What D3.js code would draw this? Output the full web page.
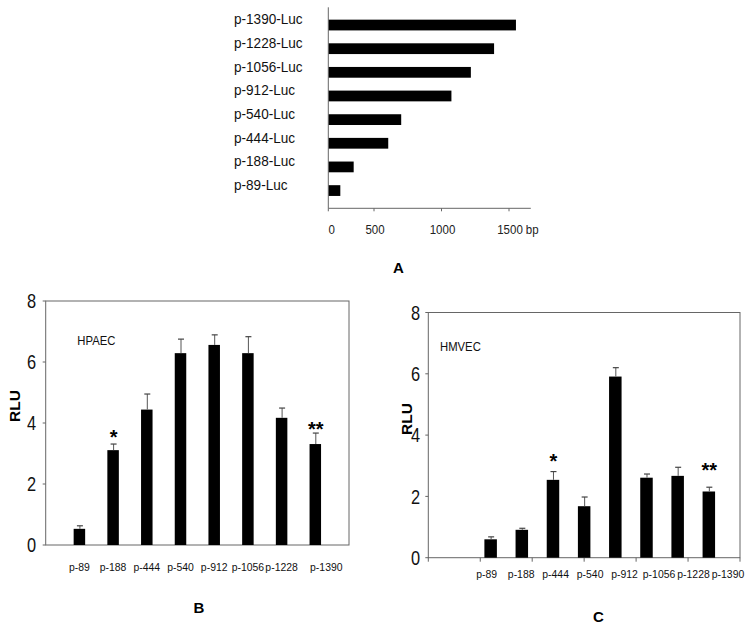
<!DOCTYPE html>
<html><head><meta charset="utf-8">
<script src="https://cdn.jsdelivr.net/npm/d3@7"></script>
<style>
html,body{margin:0;padding:0;background:#fff;}
text{font-family:"Liberation Sans",Arial,sans-serif;}
</style></head>
<body>
<svg id="c" width="753" height="630"></svg>
<script>
// ---------- data ----------
const constructs = ['p-1390-Luc','p-1228-Luc','p-1056-Luc','p-912-Luc','p-540-Luc','p-444-Luc','p-188-Luc','p-89-Luc'];
const lengthsBp = [1390,1228,1056,912,540,444,188,89];
const bpTicks = [0,500,1000,1500];
const bpTickLabels = ['0','500','1000','1500'];

const promoters = ['p-89','p-188','p-444','p-540','p-912','p-1056','p-1228','p-1390'];
const hpaecMean = [0.53,3.11,4.44,6.29,6.56,6.29,4.17,3.31];
const hpaecErr  = [0.10,0.20,0.51,0.46,0.33,0.54,0.32,0.36];
const hmvecMean = [0.60,0.91,2.54,1.68,5.91,2.61,2.67,2.16];
const hmvecErr  = [0.08,0.05,0.27,0.30,0.29,0.12,0.28,0.14];
const rluTicks = [0,2,4,6,8];
const starsB = [{cat:'p-188',text:'*',level:3.30},{cat:'p-1390',text:'**',level:3.58}];
const starsC = [{cat:'p-444',text:'*',level:2.94},{cat:'p-1390',text:'**',level:2.64}];

const svg = d3.select('#c');
const axisCol = '#666';

// ---------- Panel A ----------
(function(){
  const x0 = 328.3, x1 = 530.8, yTop = 7.3, yBot = 208.3;
  const x = d3.scaleLinear().domain([0,1500]).range([x0,x1]);
  // tick marks in the original are drawn offset from the bar scale
  const xt = d3.scaleLinear().domain([0,1500]).range([x0-21.8, x1-21.8]);
  const y = d3.scalePoint().domain(constructs).range([yTop,yBot]).padding(0.75);
  const bh = y.step()*0.455;
  const g = svg.append('g');
  g.selectAll('rect.bar').data(constructs).join('rect')
    .attr('x',x(0)).attr('y',d=>y(d)-bh/2)
    .attr('width',(d,i)=>x(lengthsBp[i])-x(0)).attr('height',bh).attr('fill','#000');
  g.selectAll('text.lab').data(constructs).join('text')
    .attr('transform',d=>`translate(234,${y(d)-5.5}) scale(0.97,1)`).attr('dy','0.35em')
    .attr('font-size',14).attr('fill','#111').text(d=>d);
  g.append('line').attr('x1',x0).attr('x2',x0).attr('y1',yTop).attr('y2',yBot).attr('stroke',axisCol);
  g.append('line').attr('x1',x0).attr('x2',x1).attr('y1',yBot).attr('y2',yBot).attr('stroke',axisCol);
  const tx = v => Math.max(x0, xt(v));
  g.selectAll('line.tk').data(bpTicks).join('line')
    .attr('x1',tx).attr('x2',tx).attr('y1',yBot).attr('y2',yBot+3).attr('stroke',axisCol);
  const tl = g.selectAll('text.tl').data(bpTicks).join('text')
    .attr('transform',(d,i)=>`translate(${i===0 ? tx(d)+3.4 : tx(d)+1},233.5) scale(0.92,1)`)
    .attr('text-anchor','middle').attr('font-size',12.5).attr('fill','#222')
    .text((d,i)=>bpTickLabels[i]);
  const last = tl.filter((d,i)=>i===bpTicks.length-1).node();
  const w = last.getComputedTextLength()*0.92;
  g.append('text').attr('transform',`translate(${tx(bpTicks[bpTicks.length-1])+1+w/2+3},233.5) scale(0.92,1)`)
    .attr('font-size',12.5).attr('fill','#222').text('bp');
  g.append('text').attr('x',398.3).attr('y',273).attr('text-anchor','middle')
    .attr('font-size',15).attr('font-weight','bold').text('A');
})();

// ---------- bar panel helper ----------
function barPanel(o){
  const g = svg.append('g');
  const y = d3.scaleLinear().domain([0,8]).range([o.yBot,o.yTop]);
  const x = d3.scalePoint().domain(o.domain).range([o.xL,o.xR]).padding(1);
  // frame
  g.append('rect').attr('x',o.xL).attr('y',o.yTop).attr('width',o.xR-o.xL).attr('height',o.yBot-o.yTop)
    .attr('fill','none').attr('stroke',axisCol);
  // y axis ticks
  g.selectAll('line.yt').data(rluTicks).join('line')
    .attr('x1',o.xL-3).attr('x2',o.xL).attr('y1',d=>y(d)).attr('y2',d=>y(d)).attr('stroke',axisCol);
  g.selectAll('text.yl').data(rluTicks).join('text')
    .attr('transform',d=>`translate(${o.xL-o.labGap},${y(d)}) scale(0.82,1)`)
    .attr('dy','0.36em').attr('text-anchor','end')
    .attr('font-size',20).attr('fill','#111').text(d=>d);
  if(o.xTicks){
    const xs = d3.scaleLinear().domain([0,o.xTicks]).range([o.xL,o.xR]);
    g.selectAll('line.xt').data(d3.range(o.xTicks+1)).join('line')
      .attr('x1',d=>xs(d)).attr('x2',d=>xs(d)).attr('y1',o.yBot).attr('y2',o.yBot+4).attr('stroke',axisCol);
  }
  // bars
  g.selectAll('rect.bar').data(promoters).join('rect')
    .attr('x',d=>x(d)-o.bw/2).attr('y',(d,i)=>y(o.mean[i]))
    .attr('width',o.bw).attr('height',(d,i)=>y(0)-y(o.mean[i])).attr('fill','#000');
  // error bars
  g.selectAll('line.eb').data(promoters).join('line')
    .attr('x1',d=>x(d)+0.5).attr('x2',d=>x(d)+0.5)
    .attr('y1',(d,i)=>y(o.mean[i])).attr('y2',(d,i)=>y(o.mean[i]+o.err[i]))
    .attr('stroke','#555').attr('stroke-width',1);
  g.selectAll('line.ec').data(promoters).join('line')
    .attr('x1',d=>x(d)-2.5).attr('x2',d=>x(d)+3.5)
    .attr('y1',(d,i)=>y(o.mean[i]+o.err[i])).attr('y2',(d,i)=>y(o.mean[i]+o.err[i]))
    .attr('stroke','#444').attr('stroke-width',1.2);
  // category labels
  g.selectAll('text.xl').data(promoters).join('text')
    .attr('transform',(d,i)=>`translate(${o.labX(d,i,x)},${o.labY}) scale(0.9,1)`)
    .attr('text-anchor','middle')
    .attr('font-size',11.6).attr('fill','#111').text(d=>d);
  // stars (baseline at the given level)
  g.selectAll('text.st').data(o.stars).join('text')
    .attr('x',d=>x(d.cat)+0.5).attr('y',d=>y(d.level)).attr('text-anchor','middle')
    .attr('font-size',20).attr('font-weight','bold').text(d=>d.text);
  // cell label
  g.append('text').attr('transform',`translate(${o.cellX},${o.cellY}) scale(0.92,1)`)
    .attr('font-size',12.3).attr('fill','#111').text(o.cell);
  // RLU
  g.append('text').attr('transform',`translate(${o.rluX},${o.rluY}) rotate(-90)`)
    .attr('text-anchor','middle').attr('dy','0.36em')
    .attr('font-size',15.5).attr('font-weight','bold').text('RLU');
  g.append('text').attr('x',o.titleX).attr('y',o.titleY).attr('text-anchor','middle')
    .attr('font-size',15).attr('font-weight','bold').text(o.title);
}

barPanel({
  domain: promoters, xL:45.7, xR:349, yTop:301, yBot:545, bw:11.5, labGap:9.5,
  mean:hpaecMean, err:hpaecErr, stars:starsB, labY:571,
  labX:(d,i,x)=> x(d) + (i===promoters.length-1 ? 11 : 0),
  cell:'HPAEC', cellX:77.3, cellY:344.5, rluX:14.7, rluY:406,
  title:'B', titleX:199, titleY:613
});

const labRange = [486.7, 728];
const labScale = d3.scalePoint().domain(promoters).range(labRange);
barPanel({
  domain: [''].concat(promoters), xL:428.3, xR:740, yTop:312.5, yBot:557.7, bw:12.5, labGap:8.3,
  mean:hmvecMean, err:hmvecErr, stars:starsC, labY:577.5,
  labX:(d)=> labScale(d), xTicks:6,
  cell:'HMVEC', cellX:440, cellY:351.3, rluX:406, rluY:419,
  title:'C', titleX:598.3, titleY:621.7
});
</script>
</body></html>
